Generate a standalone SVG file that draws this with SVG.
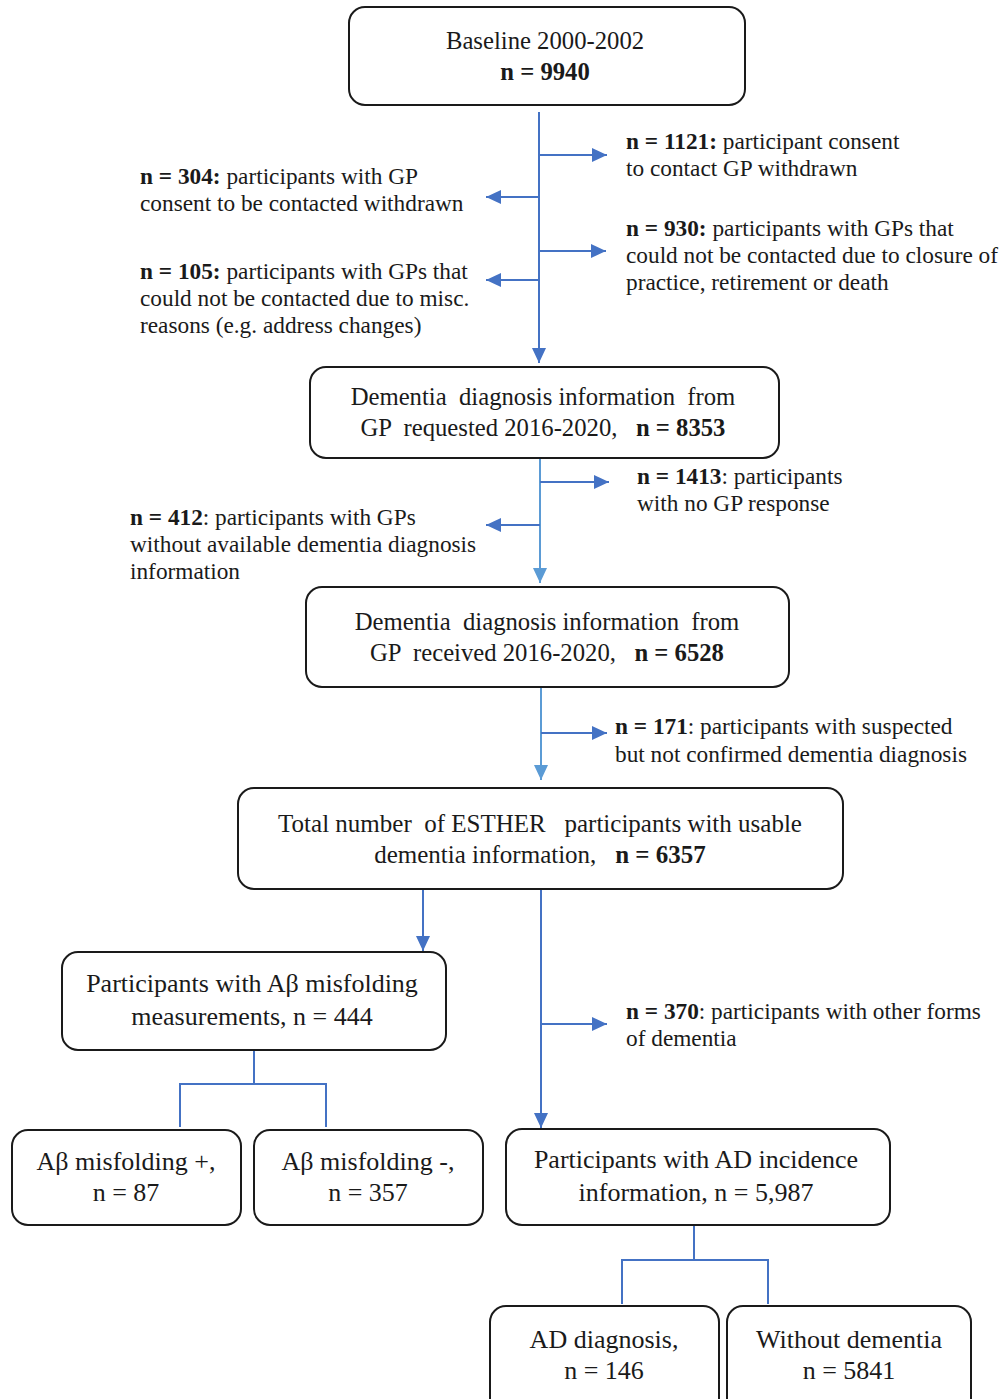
<svg xmlns="http://www.w3.org/2000/svg" width="1003" height="1399" viewBox="0 0 1003 1399">
<style>
text{font-family:"Liberation Serif","Times New Roman",serif;fill:#1a1a1a;white-space:pre}
.bx{fill:#fff;stroke:#1a1a1a;stroke-width:2}
.t{font-size:24.7px;text-anchor:middle}
.u{font-size:26px;text-anchor:middle}
.s{font-size:23.3px}
.b{font-weight:bold}
.d{stroke:#4472C4;stroke-width:2;fill:none}
.l{stroke:#5B9BD5;stroke-width:2;fill:none}
</style>
<defs>
<marker id="ad" markerUnits="userSpaceOnUse" markerWidth="16" markerHeight="14" refX="15" refY="7" orient="auto"><path d="M0,0 L15,7 L0,14 Z" fill="#4472C4"/></marker>
<marker id="al" markerUnits="userSpaceOnUse" markerWidth="16" markerHeight="14" refX="15" refY="7" orient="auto"><path d="M0,0 L15,7 L0,14 Z" fill="#5B9BD5"/></marker>
</defs>
<g id="connectors">
<line class="d" x1="539" y1="112" x2="539" y2="363" marker-end="url(#ad)"/>
<line class="d" x1="539" y1="155" x2="607" y2="155" marker-end="url(#ad)"/>
<line class="d" x1="539" y1="197" x2="486" y2="197" marker-end="url(#ad)"/>
<line class="d" x1="539" y1="251" x2="606" y2="251" marker-end="url(#ad)"/>
<line class="d" x1="539" y1="280" x2="486" y2="280" marker-end="url(#ad)"/>
<line class="l" x1="540" y1="458" x2="540" y2="583" marker-end="url(#al)"/>
<line class="d" x1="540" y1="482" x2="609" y2="482" marker-end="url(#ad)"/>
<line class="d" x1="540" y1="525" x2="486" y2="525" marker-end="url(#ad)"/>
<line class="l" x1="541" y1="687" x2="541" y2="780" marker-end="url(#al)"/>
<line class="d" x1="541" y1="733" x2="607" y2="733" marker-end="url(#ad)"/>
<line class="d" x1="423" y1="889" x2="423" y2="951" marker-end="url(#ad)"/>
<line class="d" x1="541" y1="889" x2="541" y2="1128" marker-end="url(#ad)"/>
<line class="d" x1="541" y1="1024" x2="607" y2="1024" marker-end="url(#ad)"/>
<path class="d" d="M254,1050 V1084 M180,1127 V1084 H326 V1127"/>
<path class="d" d="M694,1225 V1260 M622,1304 V1260 H768 V1304"/>
</g>
<g id="baseline"><rect class="bx" x="349" y="7" width="396" height="98" rx="16"/>
<text class="t" x="545" y="49">Baseline 2000-2002</text>
<text class="t b" x="545" y="80">n = 9940</text></g>
<g id="excl1121"><text class="s" x="626" y="149"><tspan class="b">n = 1121:</tspan> participant consent</text>
<text class="s" x="626" y="176">to contact GP withdrawn</text></g>
<g id="excl304"><text class="s" x="140" y="184"><tspan class="b">n = 304:</tspan> participants with GP</text>
<text class="s" x="140" y="211">consent to be contacted withdrawn</text></g>
<g id="excl930"><text class="s" x="626" y="236"><tspan class="b">n = 930:</tspan> participants with GPs that</text>
<text class="s" x="626" y="263">could not be contacted due to closure of</text>
<text class="s" x="626" y="290">practice, retirement or death</text></g>
<g id="excl105"><text class="s" x="140" y="279"><tspan class="b">n = 105:</tspan> participants with GPs that</text>
<text class="s" x="140" y="306">could not be contacted due to misc.</text>
<text class="s" x="140" y="333">reasons (e.g. address changes)</text></g>
<g id="requested"><rect class="bx" x="310" y="367" width="469" height="91" rx="16"/>
<text class="t" x="543" y="405">Dementia  diagnosis information  from</text>
<text class="t" x="543" y="436">GP  requested 2016-2020,   <tspan class="b">n = 8353</tspan></text></g>
<g id="excl1413"><text class="s" x="637" y="484"><tspan class="b">n = 1413</tspan>: participants</text>
<text class="s" x="637" y="511">with no GP response</text></g>
<g id="excl412"><text class="s" x="130" y="525"><tspan class="b">n = 412</tspan>: participants with GPs</text>
<text class="s" x="130" y="552">without available dementia diagnosis</text>
<text class="s" x="130" y="579">information</text></g>
<g id="received"><rect class="bx" x="306" y="587" width="483" height="100" rx="16"/>
<text class="t" x="547" y="630">Dementia  diagnosis information  from</text>
<text class="t" x="547" y="661">GP  received 2016-2020,   <tspan class="b">n = 6528</tspan></text></g>
<g id="excl171"><text class="s" x="615" y="734"><tspan class="b">n = 171</tspan>: participants with suspected</text>
<text class="s" x="615" y="762">but not confirmed dementia diagnosis</text></g>
<g id="total"><rect class="bx" x="238" y="788" width="605" height="101" rx="16"/>
<text class="t" x="540" y="832" style="font-size:25px">Total number  of ESTHER   participants with usable</text>
<text class="t" x="540" y="863" style="font-size:25px">dementia information,   <tspan class="b">n = 6357</tspan></text></g>
<g id="abeta"><rect class="bx" x="62" y="952" width="384" height="98" rx="16"/>
<text class="u" x="252" y="992">Participants with Aβ misfolding</text>
<text class="u" x="252" y="1025">measurements, n = 444</text></g>
<g id="excl370"><text class="s" x="626" y="1019"><tspan class="b">n = 370</tspan>: participants with other forms</text>
<text class="s" x="626" y="1046">of dementia</text></g>
<g id="abpos"><rect class="bx" x="12" y="1130" width="229" height="95" rx="16"/>
<text class="u" x="126" y="1170">Aβ misfolding +,</text>
<text class="u" x="126" y="1201">n = 87</text></g>
<g id="abneg"><rect class="bx" x="254" y="1130" width="229" height="95" rx="16"/>
<text class="u" x="368" y="1170">Aβ misfolding -,</text>
<text class="u" x="368" y="1201">n = 357</text></g>
<g id="adinc"><rect class="bx" x="506" y="1129" width="384" height="96" rx="16"/>
<text class="u" x="696" y="1168">Participants with AD incidence</text>
<text class="u" x="696" y="1201">information, n = 5,987</text></g>
<g id="addiag"><rect class="bx" x="490" y="1306" width="229" height="110" rx="16"/>
<text class="u" x="604" y="1348">AD diagnosis,</text>
<text class="u" x="604" y="1379">n = 146</text></g>
<g id="nodem"><rect class="bx" x="727" y="1306" width="244" height="110" rx="16"/>
<text class="u" x="849" y="1348">Without dementia</text>
<text class="u" x="849" y="1379">n = 5841</text></g>
</svg>
